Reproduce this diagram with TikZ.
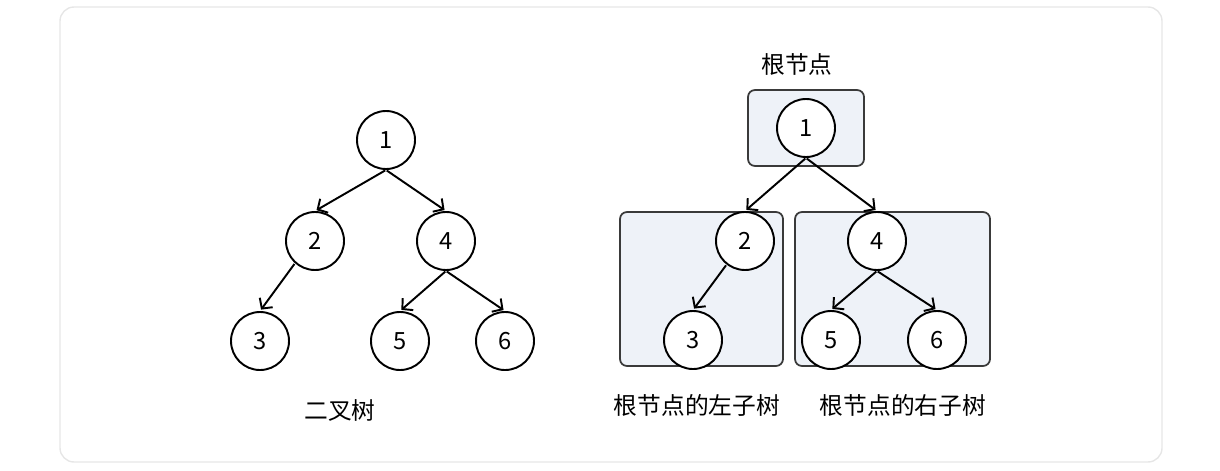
\documentclass[tikz,border=0pt]{standalone}
\usepackage{fontspec}
\setmainfont{Noto Sans CJK SC}
\usetikzlibrary{arrows.meta}

\definecolor{boxfill}{HTML}{EEF2F8}
\definecolor{boxline}{HTML}{3A3A3A}
\definecolor{framegray}{HTML}{E6E6E6}

\tikzset{
  treenode/.style={circle, draw, line width=1.1pt, fill=white, minimum size=1.16cm, inner sep=0pt},
  edge/.style={line width=1.1pt, -{Straight Barb[length=1.5mm,width=3.2mm]}, shorten >=1pt, shorten <=0.5pt},
  subtree/.style={draw=boxline, line width=1pt, fill=boxfill, rounded corners=4pt},
}

\begin{document}
\begin{tikzpicture}[font=\fontsize{13.5}{16}\selectfont]

\useasboundingbox (0,0) rectangle (24.4,9.4);

\draw[framegray, line width=0.8pt, rounded corners=8pt] (1.2,0.16) rectangle (23.24,9.26);

% left tree
\foreach \n/\x/\y in {1/7.72/6.6, 2/6.3/4.58, 4/8.92/4.58, 3/5.2/2.58, 5/8.0/2.58, 6/10.1/2.58}
  \node[treenode] (l\n) at (\x,\y) {\n};

\foreach \a/\b in {1/2, 1/4, 4/5, 4/6}
  \draw[edge] (l\a.south) -- (l\b.north);
\draw[edge] (l2.228) -- (l3.north);

\node (ltitle) at (6.8,1.2) {二叉树};

% right tree with its subtrees
\draw[subtree] (14.96,6.08) rectangle (17.28,7.6);
\draw[subtree] (12.4,2.08) rectangle (15.66,5.16);
\draw[subtree] (15.9,2.08) rectangle (19.8,5.16);

\foreach \n/\x/\y in {1/16.12/6.84, 2/14.9/4.58, 4/17.54/4.58, 3/13.86/2.6, 5/16.62/2.6, 6/18.74/2.6}
  \node[treenode] (r\n) at (\x,\y) {\n};

\foreach \a/\b in {1/2, 1/4, 4/5, 4/6}
  \draw[edge] (r\a.south) -- (r\b.north);
\draw[edge] (r2.232) -- (r3.north);

\node (rroot) at (15.94,8.12) {根节点};
\node (rleft) at (13.94,1.3) {根节点的左子树};
\node (rright) at (18.06,1.3) {根节点的右子树};

\end{tikzpicture}
\end{document}
